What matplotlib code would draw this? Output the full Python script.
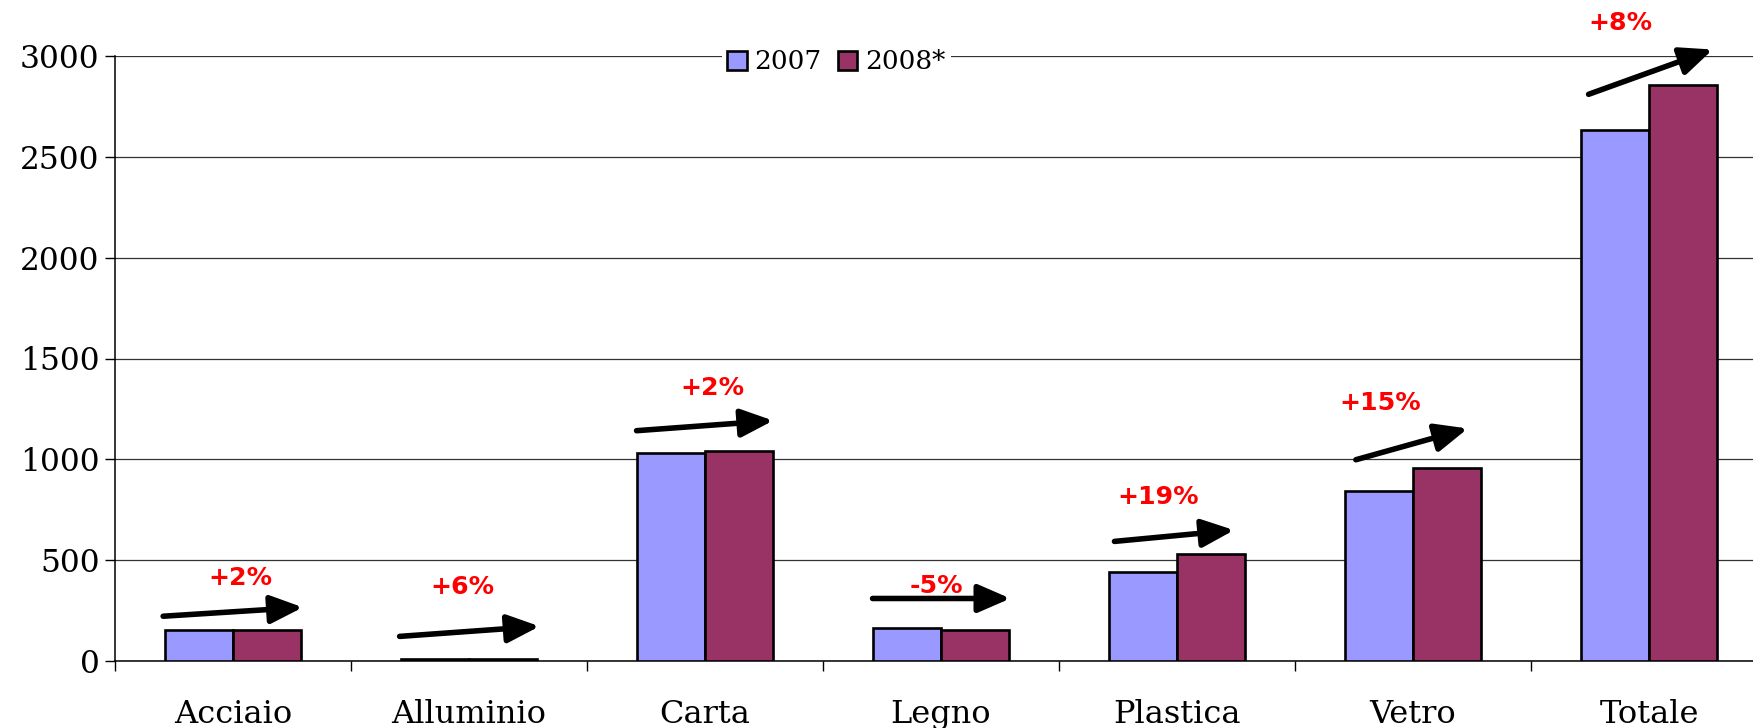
import matplotlib
matplotlib.use('Agg')
from matplotlib import pyplot as plt
from matplotlib.patches import Patch
import numpy as np

# data
categorie = ['Acciaio', 'Alluminio', 'Carta', 'Legno', 'Plastica', 'Vetro', 'Totale']
v2007 = [153, 9, 1031, 166, 440, 843, 2633]
v2008 = [155, 10, 1042, 156, 532, 959, 2858]
variazioni = ['+2%', '+6%', '+2%', '-5%', '+19%', '+15%', '+8%']

# annotation layout: arrow (dx0, y0, dx1, y1) relative to category, label (dx, y)
frecce = [(-0.296, 222, 0.296, 266), (-0.294, 122, 0.299, 172),
          (-0.29, 1142, 0.289, 1192), (-0.29, 310, 0.294, 310),
          (-0.265, 593, 0.242, 649), (-0.242, 998, 0.232, 1153),
          (-0.256, 2810, 0.27, 3032)]
etichette = [(0.03, 410), (-0.03, 366), (0.033, 1353), (-0.019, 372),
             (-0.08, 815), (-0.137, 1280), (-0.123, 3166)]

def main():
	c07 = '#9999FF'
	c08 = '#993366'
	fig = plt.figure(figsize=(17.53, 7.28), dpi=100)
	ax = fig.add_axes([115/1753, 67/728, 1652/1753, 605/728])

	x = np.arange(len(categorie))
	w = 0.29
	ax.bar(x - w/2, v2007, w, color=c07, edgecolor='black', linewidth=1.9, zorder=3)
	ax.bar(x + w/2, v2008, w, color=c08, edgecolor='black', linewidth=1.9, zorder=3)

	ax.set_xlim(-0.5, 6.5)
	ax.set_ylim(0, 3000)
	ax.set_yticks(np.arange(0, 3001, 500))
	ax.yaxis.grid(True, color='#333333', linewidth=0.9, zorder=0)
	ax.set_axisbelow(True)

	# ticks on the category boundaries, labels in the middle
	ax.set_xticks(np.arange(-0.5, 7, 1))
	ax.set_xticklabels([])
	ax.set_xticks(x, minor=True)
	ax.set_xticklabels(categorie, minor=True, fontsize=23, family='DejaVu Serif')
	for t in ax.get_xticklabels(minor=True):
		t.set_verticalalignment('baseline')
	ax.tick_params(axis='x', which='major', length=7, width=1, direction='out')
	ax.tick_params(axis='x', which='minor', length=0, pad=44.5)
	ax.tick_params(axis='y', length=7, width=1, pad=4, labelsize=22.5)
	for t in ax.get_yticklabels():
		t.set_family('DejaVu Serif')

	for s in ['top', 'right']:
		ax.spines[s].set_visible(False)
	ax.spines['left'].set_linewidth(1.1)
	ax.spines['bottom'].set_linewidth(1.1)

	for i in range(len(categorie)):
		dx0, y0, dx1, y1 = frecce[i]
		ax.annotate('', xy=(i + dx1, y1), xytext=(i + dx0, y0),
		            arrowprops=dict(arrowstyle='-|>,head_length=1.15,head_width=0.5',
		                            mutation_scale=17, lw=4, color='black',
		                            shrinkA=0, shrinkB=0, capstyle='round'),
		            annotation_clip=False, zorder=5)
		lx, ly = etichette[i]
		ax.text(i + lx, ly, variazioni[i], color='red', fontsize=18.2, fontweight='bold',
		        ha='center', va='center', family='DejaVu Sans', zorder=6, clip_on=False)

	handles = [Patch(facecolor=c07, edgecolor='black', linewidth=1.9),
	           Patch(facecolor=c08, edgecolor='black', linewidth=1.9)]
	leg = fig.legend(handles, ['2007', '2008*'], loc='center', bbox_to_anchor=(0.477, 0.915),
	                 ncol=2, frameon=True, fancybox=False, edgecolor='white', framealpha=1,
	                 handlelength=0.75, handleheight=0.75, handletextpad=0.3,
	                 columnspacing=0.6, borderpad=0.2, borderaxespad=0,
	                 prop={'family': 'DejaVu Serif', 'size': 19})
	leg.get_frame().set_linewidth(0)

	plt.savefig('out.png', dpi=100)
	plt.close(fig)

if __name__ == '__main__':
	main()
